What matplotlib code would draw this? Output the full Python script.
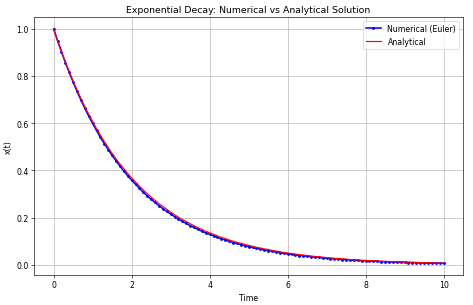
import matplotlib
matplotlib.use("Agg")
import matplotlib.pyplot as plt

# sample times (dt = 0.1)
t_values = [
    0.0, 0.1, 0.2, 0.3, 0.4, 0.5, 0.6, 0.7, 0.8, 0.9,
    1.0, 1.1, 1.2, 1.3, 1.4, 1.5, 1.6, 1.7, 1.8, 1.9,
    2.0, 2.1, 2.2, 2.3, 2.4, 2.5, 2.6, 2.7, 2.8, 2.9,
    3.0, 3.1, 3.2, 3.3, 3.4, 3.5, 3.6, 3.7, 3.8, 3.9,
    4.0, 4.1, 4.2, 4.3, 4.4, 4.5, 4.6, 4.7, 4.8, 4.9,
    5.0, 5.1, 5.2, 5.3, 5.4, 5.5, 5.6, 5.7, 5.8, 5.9,
    6.0, 6.1, 6.2, 6.3, 6.4, 6.5, 6.6, 6.7, 6.8, 6.9,
    7.0, 7.1, 7.2, 7.3, 7.4, 7.5, 7.6, 7.7, 7.8, 7.9,
    8.0, 8.1, 8.2, 8.3, 8.4, 8.5, 8.6, 8.7, 8.8, 8.9,
    9.0, 9.1, 9.2, 9.3, 9.4, 9.5, 9.6, 9.7, 9.8, 9.9,
    10.0,
]

x_euler = [
    1.000, 0.950, 0.903, 0.857, 0.815, 0.774, 0.735, 0.698, 0.663, 0.630,
    0.599, 0.569, 0.540, 0.513, 0.488, 0.463, 0.440, 0.418, 0.397, 0.377,
    0.358, 0.341, 0.324, 0.307, 0.292, 0.277, 0.264, 0.250, 0.238, 0.226,
    0.215, 0.204, 0.194, 0.184, 0.175, 0.166, 0.158, 0.150, 0.142, 0.135,
    0.129, 0.122, 0.116, 0.110, 0.105, 0.099, 0.094, 0.090, 0.085, 0.081,
    0.077, 0.073, 0.069, 0.066, 0.063, 0.060, 0.057, 0.054, 0.051, 0.048,
    0.046, 0.044, 0.042, 0.039, 0.038, 0.036, 0.034, 0.032, 0.031, 0.029,
    0.028, 0.026, 0.025, 0.024, 0.022, 0.021, 0.020, 0.019, 0.018, 0.017,
    0.017, 0.016, 0.015, 0.014, 0.013, 0.013, 0.012, 0.012, 0.011, 0.010,
    0.010, 0.009, 0.009, 0.008, 0.008, 0.008, 0.007, 0.007, 0.007, 0.006,
    0.006,
]

x_exact = [
    1.000, 0.951, 0.905, 0.861, 0.819, 0.779, 0.741, 0.705, 0.670, 0.638,
    0.607, 0.577, 0.549, 0.522, 0.497, 0.472, 0.449, 0.427, 0.407, 0.387,
    0.368, 0.350, 0.333, 0.317, 0.301, 0.287, 0.273, 0.259, 0.247, 0.235,
    0.223, 0.212, 0.202, 0.192, 0.183, 0.174, 0.165, 0.157, 0.150, 0.142,
    0.135, 0.129, 0.122, 0.116, 0.111, 0.105, 0.100, 0.095, 0.091, 0.086,
    0.082, 0.078, 0.074, 0.071, 0.067, 0.064, 0.061, 0.058, 0.055, 0.052,
    0.050, 0.047, 0.045, 0.043, 0.041, 0.039, 0.037, 0.035, 0.033, 0.032,
    0.030, 0.029, 0.027, 0.026, 0.025, 0.024, 0.022, 0.021, 0.020, 0.019,
    0.018, 0.017, 0.017, 0.016, 0.015, 0.014, 0.014, 0.013, 0.012, 0.012,
    0.011, 0.011, 0.010, 0.010, 0.009, 0.009, 0.008, 0.008, 0.007, 0.007,
    0.007,
]

fig, ax = plt.subplots(figsize=(8.464, 5.464), dpi=56)
ax.plot(t_values, x_euler, "b-o", markersize=2.5, linewidth=2, label="Numerical (Euler)")
ax.plot(t_values, x_exact, "r-", linewidth=1.5, label="Analytical")
ax.set_xlabel("Time")
ax.set_ylabel("x(t)")
ax.set_title("Exponential Decay: Numerical vs Analytical Solution")
ax.legend(loc="upper right")
ax.grid(True)

fig.subplots_adjust(left=0.072, right=0.977, top=0.941, bottom=0.098)
fig.savefig("out.png", dpi=56)
